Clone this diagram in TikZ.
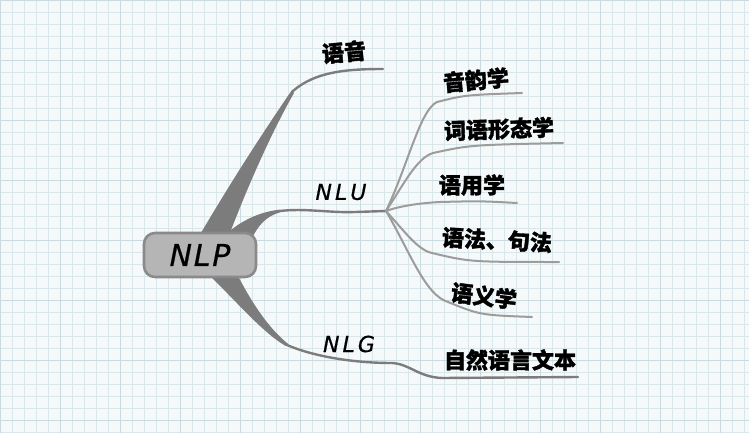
\documentclass[tikz,border=0pt]{standalone}
\usepackage{fontspec}
\newfontfamily\cjk{Noto Sans CJK SC}[BoldFeatures={FakeBold=1.6}]
\newfontfamily\hand{DejaVu Sans}
\definecolor{bgc}{HTML}{F6F9FA}
\definecolor{gridc}{HTML}{D9E6EA}
\definecolor{gridm}{HTML}{C9DBE1}
\definecolor{branch}{HTML}{7C7C7C}
\definecolor{sub}{HTML}{9C9C9C}
\definecolor{boxfill}{HTML}{B5B5B5}
\definecolor{boxdraw}{HTML}{8A8A8A}
\begin{document}
\begin{tikzpicture}[x=1pt,y=-1pt,
  zh/.style={font=\cjk\bfseries\fontsize{22}{22}\selectfont, text=black, inner sep=0pt},
  hw/.style={font=\hand\itshape\fontsize{22}{22}\selectfont\addfontfeatures{LetterSpace=14,FakeBold=0.6}, text=black, inner sep=0pt},
  limb/.style={draw=branch, line width=2.4pt, line cap=round},
  twig/.style={draw=sub, line width=2pt, line cap=round},
  wedge/.style={fill=branch, draw=none},
  rootbox/.style={draw=boxdraw, fill=boxfill, line width=2.6pt, rounded corners=11pt,
    minimum width=112pt, minimum height=44pt, inner sep=0pt,
    font=\hand\itshape\fontsize{30}{30}\selectfont\addfontfeatures{LetterSpace=6,FakeBold=0.6}}]
\useasboundingbox (0,0) rectangle (749,433);
\fill[bgc] (0,0) rectangle (749,433);
\foreach \i in {0,12,...,744} \draw[gridc, line width=0.5pt] (\i,0) -- (\i,433);
\foreach \j in {0,12,...,432} \draw[gridc, line width=0.5pt] (0,\j) -- (749,\j);
\foreach \i in {0,60,...,744} \draw[gridm, line width=0.6pt] (\i,0) -- (\i,433);
\foreach \j in {0,60,...,432} \draw[gridm, line width=0.6pt] (0,\j) -- (749,\j);

% coordinates
\coordinate (yyK) at (293,91);
\coordinate (yyE) at (383,69);
\coordinate (nluK) at (280,211);
\coordinate (hub) at (386,211);
\coordinate (nlgK) at (287,345);
\coordinate (nlgE) at (578,377);
\coordinate (e1) at (522,93);
\coordinate (e2) at (563,143);
\coordinate (e3) at (517,203);
\coordinate (e4) at (559,262);
\coordinate (e5) at (532,317);

% wedges
\fill[wedge] (198,238) .. controls (235,175) and (268,125) .. (292,90)
  -- (294,93) .. controls (274,128) and (250,180) .. (228,238) -- cycle;
\fill[wedge] (222,238) .. controls (238,222) and (258,212) .. (280,209.6)
  -- (280,212.4) .. controls (266,216) and (258,226) .. (252,238) -- cycle;
\fill[wedge] (206,272) .. controls (240,305) and (262,332) .. (286,346.2)
  -- (288,343.8) .. controls (268,328) and (250,300) .. (236,272) -- cycle;

% limbs
\draw[limb] (yyK) .. controls (315,72) and (345,69) .. (yyE);
\draw[limb] (nluK) .. controls (305,208) and (330,213) .. (355,212) .. controls (370,211.5) .. (hub);
\draw[limb] (nlgK) .. controls (315,357) and (355,363) .. (392,363)
  .. controls (410,364) and (418,377) .. (442,378) -- (nlgE);

% twigs
\draw[twig] (hub) .. controls (408,165) and (420,110) .. (437,102) .. controls (465,95) .. (e1);
\draw[twig] (hub) .. controls (405,182) and (417,158) .. (433,153) .. controls (470,145) .. (e2);
\draw[twig] (hub) .. controls (400,206) and (420,203) .. (440,202) .. controls (480,201) .. (e3);
\draw[twig] (hub) .. controls (405,232) and (418,250) .. (432,253) .. controls (470,262) .. (e4);
\draw[twig] (hub) .. controls (410,252) and (425,295) .. (448,302) .. controls (480,315) .. (e5);

% root
\node[rootbox] (nlp) at (200,255) {NLP};

% labels
\node[zh, rotate=5] (t0) at (344,52) {语音};
\node[hw] (nlu) at (341,192) {NLU};
\node[zh, rotate=5] (t1) at (476,80) {音韵学};
\node[zh, rotate=2] (t2) at (499,129) {词语形态学};
\node[zh] (t3) at (472,185) {语用学};
\node[zh, rotate=-3] (t4) at (497,240) {语法、句法};
\node[zh, rotate=-7] (t5) at (484,296) {语义学};
\node[hw] (nlg) at (349,344) {NLG};
\node[zh] (t6) at (510,360) {自然语言文本};
\end{tikzpicture}
\end{document}
